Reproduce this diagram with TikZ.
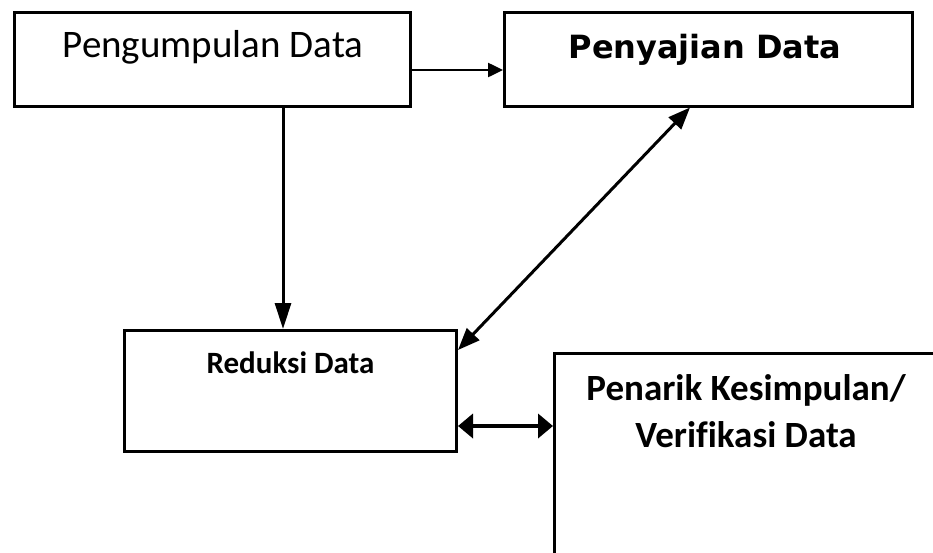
\documentclass[tikz,border=0pt]{standalone}
\usepackage{fontspec}
\setmainfont[Ligatures=CommonOff]{Carlito}
\newfontfamily\dejavu{DejaVu Sans}
\usetikzlibrary{arrows.meta}

\begin{document}
\begin{tikzpicture}[x=1pt, y=-1pt,
    box/.style={rectangle, draw, line width=3pt, inner sep=0pt},
    boxtext/.style={anchor=base, inner sep=0pt, align=center},
    arrow/.style={-{Triangle[length=26pt,width=16pt]}, line width=3pt},
    thinarrow/.style={-{Triangle[length=15pt,width=14pt]}, line width=2.5pt},
    dblarrow/.style={{Triangle[length=22pt,width=17pt]}-{Triangle[length=22pt,width=17pt]}, line width=3pt},
    widearrow/.style={{Triangle[length=15pt,width=24pt]}-{Triangle[length=15pt,width=24pt]}, line width=4pt}
]
\useasboundingbox (0,0) rectangle (933,552);
\clip (0,0) rectangle (933,552);

% Boxes
\node[box, minimum width=396pt, minimum height=94pt] (kumpul) at (212.5,59) {};
\node[box, minimum width=408pt, minimum height=94pt] (sajian) at (708.5,59) {};
\node[box, minimum width=332pt, minimum height=121pt] (reduksi) at (290.5,391) {};
\node[box, minimum width=385pt, minimum height=287pt] (simpul) at (747,497) {};

% Texts
\node[boxtext, font=\fontsize{39}{46}\selectfont] (kumpultxt) at (213,57) {Pengumpulan Data};
\node[boxtext, font=\dejavu\bfseries\fontsize{32}{40}\selectfont] (sajiantxt) at (705,58) {Penyajian Data};
\node[boxtext, font=\bfseries\fontsize{31}{38}\selectfont] (reduksitxt) at (290.5,373) {Reduksi Data};
\node[boxtext, font=\bfseries\fontsize{37}{47}\selectfont] (simpultxt) at (746,447) {Penarik Kesimpulan/\\Verifikasi Data};

% Arrows
\coordinate (turun) at ([xshift=70.5pt]kumpul.south);
\draw[thinarrow] ([yshift=-11pt]kumpul.east) -- ([yshift=-11pt]sajian.west);
\draw[arrow] (turun) -- (turun |- reduksi.north);
\draw[dblarrow] ([yshift=-21pt]reduksi.north east) -- ([xshift=187pt]sajian.south west);
\draw[widearrow] ([yshift=-35pt]reduksi.east) -- ([yshift=-35pt]reduksi.east -| simpul.west);

\end{tikzpicture}
\end{document}
